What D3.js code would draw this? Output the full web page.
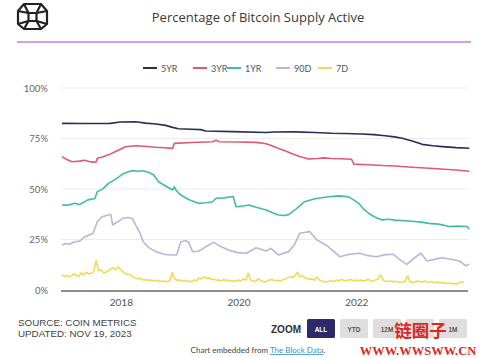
<!DOCTYPE html>
<html><head><meta charset="utf-8">
<script src="https://cdn.jsdelivr.net/npm/d3@7"></script>
<style>
html,body{margin:0;padding:0;background:#fff;}
svg{display:block;}
</style></head>
<body>
<svg id="c" width="479" height="358"></svg>
<script>
// ---------- DATA ----------
const seriesNames = ["5YR", "3YR", "1YR", "90D", "7D"];
const yTicks = [0, 25, 50, 75, 100];
const yTickLabels = ["0%", "25%", "50%", "75%", "100%"];
const xTickYears = [2018, 2020, 2022];
const zoomButtons = ["ALL", "YTD", "12M", "", "1M"];

// [decimal year, percent]
const s5yr = [[2017.0,82.5],[2017.4,82.4],[2017.82,82.5],[2017.99,83.2],[2018.25,83.3],[2018.42,82.6],
  [2018.6,82.2],[2018.76,81.5],[2018.88,80.5],[2018.98,79.8],[2019.2,79.6],[2019.36,79.4],[2019.44,78.7],
  [2019.9,78.4],[2020.47,78.0],[2020.6,78.2],[2020.95,78.3],[2021.3,78.0],[2021.58,77.6],[2021.8,77.5],
  [2022.09,77.2],[2022.3,76.9],[2022.49,76.4],[2022.65,75.8],[2022.78,75.1],[2022.95,73.8],[2023.12,72.1],
  [2023.3,71.4],[2023.46,71.0],[2023.7,70.5],[2023.92,70.2]];
const s3yr = [[2017.0,66.0],[2017.08,64.6],[2017.17,63.5],[2017.3,63.8],[2017.39,64.2],[2017.46,63.6],
  [2017.53,63.3],[2017.58,63.4],[2017.6,65.2],[2017.7,66.0],[2017.79,66.9],[2017.93,68.8],[2018.08,70.9],
  [2018.25,71.4],[2018.4,71.2],[2018.59,70.7],[2018.75,70.4],[2018.88,70.1],[2018.91,72.6],[2019.2,73.0],
  [2019.56,73.4],[2019.62,74.1],[2019.67,73.4],[2020.0,73.3],[2020.3,73.1],[2020.47,72.4],[2020.58,71.3],
  [2020.68,70.1],[2020.8,68.8],[2020.9,67.6],[2021.05,66.0],[2021.19,64.9],[2021.35,65.1],[2021.45,65.4],
  [2021.58,65.1],[2021.75,65.0],[2021.92,64.7],[2021.96,62.3],[2022.2,62.0],[2022.45,61.6],[2022.66,61.4],
  [2022.95,60.8],[2023.24,60.3],[2023.5,59.8],[2023.75,59.3],[2023.92,58.8]];
const s1yr = [[2017.0,42.1],[2017.1,42.0],[2017.22,42.9],[2017.3,42.3],[2017.44,44.6],[2017.56,45.3],
  [2017.6,48.7],[2017.7,50.2],[2017.79,52.8],[2017.92,55.0],[2018.03,57.4],[2018.12,58.4],[2018.2,59.1],
  [2018.3,58.8],[2018.38,59.0],[2018.48,58.2],[2018.56,56.9],[2018.64,53.6],[2018.76,51.5],[2018.88,49.5],
  [2018.91,51.1],[2018.95,49.0],[2019.02,47.0],[2019.15,44.8],[2019.32,42.9],[2019.45,43.2],[2019.56,43.7],
  [2019.62,45.4],[2019.75,45.6],[2019.91,46.3],[2019.96,41.2],[2020.08,41.6],[2020.18,42.1],[2020.3,41.0],
  [2020.47,39.6],[2020.58,38.2],[2020.68,37.1],[2020.78,36.9],[2020.85,37.3],[2020.98,40.2],[2021.12,43.7],
  [2021.3,45.2],[2021.53,46.2],[2021.7,46.6],[2021.87,46.1],[2021.96,44.5],[2022.04,42.9],[2022.12,40.2],
  [2022.21,38.0],[2022.32,36.0],[2022.44,34.7],[2022.55,35.0],[2022.66,34.6],[2022.95,34.0],[2023.1,33.6],
  [2023.24,33.0],[2023.4,32.6],[2023.58,31.4],[2023.72,31.6],[2023.89,31.4],[2023.92,30.0]];
const s90d = [[2017.0,22.3],[2017.06,23.0],[2017.12,22.6],[2017.22,23.9],[2017.3,24.2],[2017.39,26.4],
  [2017.53,28.1],[2017.6,33.8],[2017.68,36.3],[2017.79,37.1],[2017.83,37.4],[2017.86,32.2],[2017.96,34.0],
  [2018.03,35.5],[2018.12,35.9],[2018.2,35.3],[2018.25,32.2],[2018.33,28.0],[2018.38,23.9],[2018.48,21.0],
  [2018.59,19.0],[2018.75,17.6],[2018.88,17.3],[2018.95,17.4],[2019.02,23.9],[2019.1,24.4],[2019.15,23.8],
  [2019.22,19.0],[2019.32,19.2],[2019.45,21.5],[2019.58,23.6],[2019.7,21.5],[2019.83,19.8],[2019.98,18.5],
  [2020.13,18.2],[2020.3,20.9],[2020.47,19.3],[2020.55,20.6],[2020.68,17.3],[2020.85,19.0],[2020.95,22.5],
  [2021.04,28.1],[2021.21,28.9],[2021.33,24.8],[2021.5,22.0],[2021.72,16.5],[2021.9,17.8],[2022.06,18.2],
  [2022.2,17.0],[2022.34,16.5],[2022.5,17.5],[2022.63,17.7],[2022.75,14.8],[2022.86,12.7],[2022.97,15.5],
  [2023.1,18.2],[2023.2,14.4],[2023.35,15.3],[2023.46,16.0],[2023.6,15.2],[2023.75,14.4],[2023.86,12.0],
  [2023.92,12.7]];
// 7D: two readings per month from Jan 2017 (1st and 16th)
const s7dValues = [
  7.5,6.8, 7.2,6.5, 7.0,8.0, 7.2,6.8, 8.5,7.5, 8.8,8.0, 8.3,9.0, 14.5,9.5, 10.0,8.5, 8.8,9.5, 10.5,11.0, 10.0,11.5,
  10.0,9.0, 8.0,7.5, 7.8,6.5, 6.0,5.5, 5.8,5.0, 5.2,4.8, 5.0,4.6, 4.8,4.5, 4.4,4.2, 4.5,4.0, 4.6,8.5, 5.5,4.8,
  5.0,4.3, 4.8,4.2, 4.5,4.0, 5.0,4.6, 6.0,5.5, 6.5,5.8, 6.0,5.2, 5.4,4.8, 5.0,4.5, 5.2,4.7, 4.9,4.3, 4.6,4.2,
  5.0,4.5, 5.5,5.0, 8.3,5.0, 4.5,4.2, 5.5,4.8, 4.2,4.0, 4.5,5.2, 5.0,4.6, 4.8,4.4, 5.0,5.5, 6.0,6.5, 6.2,7.0,
  8.8,6.5, 7.0,6.0, 5.8,5.2, 5.5,4.8, 6.5,5.0, 4.5,4.2, 4.0,4.3, 4.6,4.2, 5.0,4.5, 5.2,4.8, 4.6,4.9, 5.2,4.5,
  5.0,4.6, 5.0,4.5, 4.8,5.3, 4.6,4.4, 5.0,5.5, 7.4,5.0, 4.5,4.2, 4.4,4.0, 4.3,4.0, 3.8,4.0, 4.5,7.0, 4.0,3.8,
  4.0,4.5, 4.2,3.9, 4.5,4.0, 3.8,4.2, 3.6,3.9, 3.5,3.8, 3.4,3.2, 3.5,3.0, 3.2,3.0, 3.6,4.0, 3.8
];

// ---------- HELPERS ----------
function decToDate(y){
  const yr = Math.floor(y);
  const start = Date.UTC(yr,0,1), end = Date.UTC(yr+1,0,1);
  return new Date(start + (y-yr)*(end-start));
}
const s7d = s7dValues.map((v,i)=>{
  const m = Math.floor(i/2), half = i%2;
  return [new Date(Date.UTC(2017, m, half ? 16 : 1)), v];
});
const toDates = arr => arr.map(d=>[decToDate(d[0]), d[1]]);
const seriesData = [toDates(s5yr), toDates(s3yr), toDates(s1yr), toDates(s90d), s7d];
const colors = ["#2c2d5b", "#e25877", "#3fbf9f", "#bcb4de", "#f2da55"];

const svg = d3.select("#c");
const FONT = "Lato, 'Open Sans', sans-serif";

// ---------- HEADER ----------
const logo = svg.append("g").attr("fill","none").attr("stroke","#222").attr("stroke-width",2.2).attr("stroke-linejoin","round");
logo.append("path").attr("d","M24,4 L41,4 L47,11 L47,24 L41,29 L24,29 L18,24 L18,11 Z");
logo.append("rect").attr("x",28.5).attr("y",13).attr("width",8).attr("height",8);
logo.append("path").attr("d","M24,4 L28.5,13 M41,4 L36.5,13 M47,24 L36.5,21 M18,24 L28.5,21 M18,11 L28.5,13 M47,11 L36.5,13 M24,29 L28.5,21 M41,29 L36.5,21");

svg.append("text").attr("x",258).attr("y",22).attr("text-anchor","middle")
  .attr("font-family","'Open Sans', sans-serif").attr("font-size",13).attr("fill","#3a3a3a")
  .text("Percentage of Bitcoin Supply Active");
svg.append("line").attr("x1",17).attr("x2",471).attr("y1",42).attr("y2",42)
  .attr("stroke","#d59ee6").attr("stroke-width",2);

// ---------- LEGEND ----------
const legendX = [143, 193, 227, 276, 318];
const lg = svg.append("g");
seriesNames.forEach((n,i)=>{
  lg.append("line").attr("x1",legendX[i]).attr("x2",legendX[i]+14).attr("y1",68).attr("y2",68)
    .attr("stroke",colors[i]).attr("stroke-width",2);
  lg.append("text").attr("x",legendX[i]+18).attr("y",71.5).attr("font-family",FONT)
    .attr("font-size",9).attr("fill","#555").text(n);
});

// ---------- SCALES ----------
const x = d3.scaleUtc().domain([new Date(Date.UTC(2017,0,1)), new Date(Date.UTC(2023,10,19))]).range([62, 467]);
const y = d3.scaleLinear().domain([0,100]).range([290, 88]);

// grid
const grid = svg.append("g");
yTicks.forEach(t=>{
  if(t===0) return;
  grid.append("line").attr("x1",61).attr("x2",468).attr("y1",y(t)).attr("y2",y(t))
    .attr("stroke","#ececec").attr("stroke-width",1);
});

// y axis
const yAxis = d3.axisLeft(y).tickValues(yTicks).tickFormat((d,i)=>yTickLabels[i]).tickSize(0).tickPadding(0);
const yg = svg.append("g").attr("transform","translate(48,0)").call(yAxis);
yg.select(".domain").remove();
yg.selectAll("text").attr("font-family",FONT).attr("font-size",9.5).attr("fill","#666");

// x axis
const xAxis = d3.axisBottom(x).tickValues(xTickYears.map(yy=>new Date(Date.UTC(yy,0,1))))
  .tickFormat(d3.utcFormat("%Y")).tickSize(0).tickPadding(0);
const xg = svg.append("g").attr("transform","translate(0,299)").call(xAxis);
xg.select(".domain").remove();
xg.selectAll("text").attr("font-family",FONT).attr("font-size",10).attr("fill","#555");

// ---------- LINES ----------
const line = d3.line().x(d=>x(d[0])).y(d=>y(d[1]));
const lines = svg.append("g");
[4,3,2,1,0].forEach(i=>{
  lines.append("path").datum(seriesData[i]).attr("d",line)
    .attr("fill","none").attr("stroke",colors[i]).attr("stroke-width",1.6)
    .attr("stroke-linejoin","round");
});
// baseline
svg.append("line").attr("x1",61).attr("x2",468).attr("y1",y(0)+1).attr("y2",y(0)+1)
  .attr("stroke","#8f8f8f").attr("stroke-width",2);

// ---------- FOOTER ----------
svg.append("text").attr("x",18).attr("y",326).attr("font-family","'Liberation Sans', Arial, sans-serif")
  .attr("font-size",9.8).attr("fill","#444").text("SOURCE: COIN METRICS");
svg.append("text").attr("x",18).attr("y",337).attr("font-family","'Liberation Sans', Arial, sans-serif")
  .attr("font-size",9.8).attr("fill","#444").text("UPDATED: NOV 19, 2023");

svg.append("text").attr("x",271).attr("y",333).attr("font-family","'Liberation Sans', Arial, sans-serif")
  .attr("font-size",10).attr("font-weight","bold").attr("fill","#333").text("ZOOM");
const btnX = [307, 340, 373, 406, 439];
zoomButtons.forEach((b,i)=>{
  const active = i===0;
  svg.append("rect").attr("x",btnX[i]).attr("y",319).attr("width",28).attr("height",19).attr("rx",1.5)
    .attr("fill", active ? "#2e2a6a" : "#dedede");
  if(b) svg.append("text").attr("x",btnX[i]+14).attr("y",331.5).attr("text-anchor","middle")
    .attr("font-family","'Liberation Sans', Arial, sans-serif").attr("font-size",6.5).attr("font-weight","bold")
    .attr("fill", active ? "#fff" : "#555").text(b);
});

const emb = svg.append("text").attr("x",258).attr("y",353).attr("text-anchor","middle")
  .attr("font-family",FONT).attr("font-size",8).attr("fill","#444");
emb.append("tspan").text("Chart embedded from ");
emb.append("tspan").attr("fill","#3a8fc4").attr("text-decoration","underline").text("The Block Data");
emb.append("tspan").text(".");

// watermark
svg.append("text").attr("x",420.5).attr("y",337).attr("text-anchor","middle")
  .attr("font-family","'Noto Sans CJK SC', sans-serif").attr("font-weight","bold").attr("font-size",17.5)
  .attr("fill","#e3241b").text("链圈子");
svg.append("text").attr("x",418).attr("y",355).attr("text-anchor","middle")
  .attr("font-family","'Liberation Serif', serif").attr("font-weight","bold").attr("font-size",12.5)
  .attr("fill","#e3241b").text("WWW.WWSWW.CN");
</script>
</body></html>
